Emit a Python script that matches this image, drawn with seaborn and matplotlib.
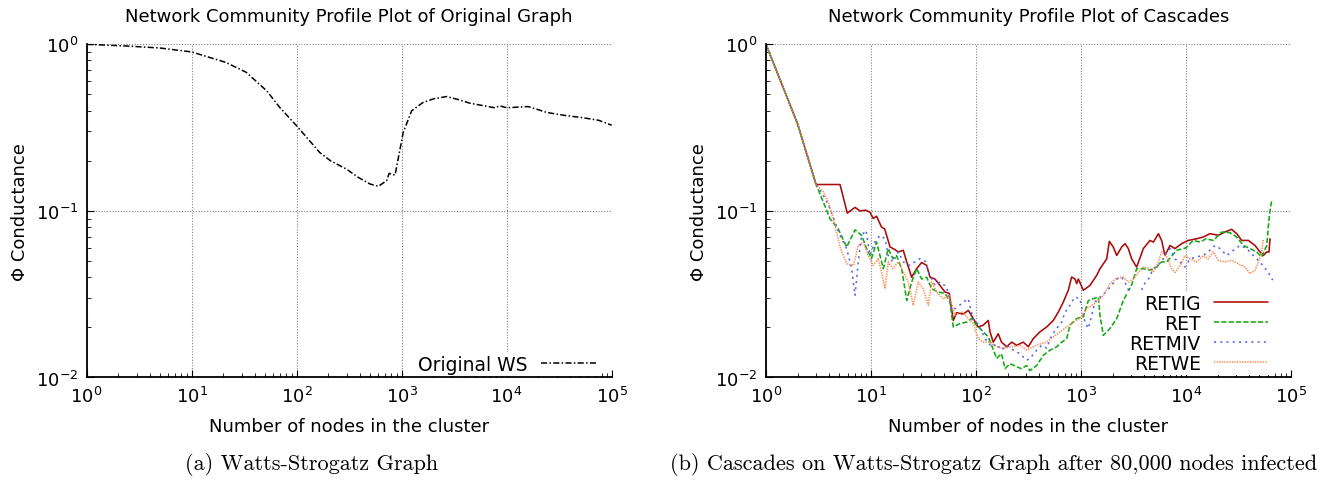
import matplotlib
matplotlib.use("Agg")
import matplotlib.pyplot as plt
import seaborn as sns

# left panel: original Watts-Strogatz graph
ws_x = [1, 2.4, 5, 10, 21, 33, 52, 69, 100, 166,
        210, 299, 386, 500, 600, 720, 760, 865, 965, 1035,
        1245, 1600, 2000, 2680, 3500, 4470, 7700, 8600, 10000, 13000,
        16000, 20000, 24000, 35000, 54000, 75000, 100000]
ws_y = [1.0, 0.977, 0.95, 0.90, 0.78, 0.68, 0.525, 0.418, 0.324, 0.224,
        0.20, 0.178, 0.159, 0.145, 0.1405, 0.152, 0.168, 0.164, 0.235, 0.296,
        0.399, 0.448, 0.47, 0.486, 0.465, 0.443, 0.416, 0.427, 0.416, 0.42,
        0.423, 0.405, 0.390, 0.375, 0.362, 0.35, 0.327]

# right panel: cascades
retig_x = [1, 2, 3, 5.07, 5.95, 7.05, 7.85, 8.96, 9.8, 10.5,
           11.3, 12.6, 13.5, 15.2, 16.6, 18.2, 20.3, 21.9, 24.4, 27.2,
           30.4, 33.9, 36.5, 40.7, 45.4, 50.7, 55.7, 60.8, 65.5, 75.7,
           84.5, 94.3, 105, 117, 131, 136, 146, 163, 175, 196,
           219, 244, 282, 315, 351, 407, 471, 545, 608, 679,
           757, 815, 877, 910, 944, 1052, 1218, 1410, 1517, 1757,
           1862, 2030, 2188, 2440, 2624, 2823, 3040, 3390, 3925, 4540,
           4900, 5460, 5860, 6310, 7040, 7850, 9100, 10500, 12600, 14600,
           16900, 20300, 23500, 27200, 30400, 33900, 39300, 45400, 50700, 54600,
           58700, 61700, 63100]
retig_y = [1.0, 0.333, 0.144, 0.144, 0.097, 0.105, 0.100, 0.101, 0.098, 0.090,
           0.093, 0.080, 0.078, 0.0607, 0.059, 0.0567, 0.058, 0.0494, 0.040, 0.045,
           0.049, 0.0471, 0.040, 0.039, 0.0357, 0.0326, 0.032, 0.022, 0.0245, 0.024,
           0.0253, 0.0226, 0.0201, 0.0206, 0.022, 0.0188, 0.0163, 0.0183, 0.0163, 0.0153,
           0.0163, 0.0156, 0.0163, 0.0153, 0.0171, 0.0188, 0.0201, 0.022, 0.0247, 0.0284,
           0.0334, 0.0401, 0.039, 0.0366, 0.039, 0.0334, 0.0357, 0.041, 0.045, 0.0515,
           0.0656, 0.0607, 0.054, 0.0607, 0.0636, 0.0594, 0.0515, 0.046, 0.0594, 0.0665,
           0.065, 0.073, 0.0665, 0.054, 0.062, 0.0594, 0.0636, 0.0665, 0.068, 0.0697,
           0.073, 0.0714, 0.0747, 0.0775, 0.073, 0.0665, 0.0665, 0.062, 0.0567, 0.054,
           0.0567, 0.0567, 0.068]

ret_x = [1, 2, 3, 3.52, 4.07, 4.88, 5.87, 7.05, 8.15, 9.1,
         10.1, 11.3, 13.1, 14.6, 16.2, 17.5, 19.6, 21.9, 24.4, 27.2,
         30.4, 33.9, 37.8, 43.6, 50.7, 56.5, 60.8, 70.4, 81.5, 91,
         101, 113, 131, 141, 157, 175, 189, 211, 244, 270,
         304, 327, 378, 438, 507, 587, 655, 731, 785, 910,
         1052, 1175, 1310, 1462, 1517, 1632, 1890, 2190, 2530, 3040,
         3390, 3900, 4540, 5260, 5860, 6550, 8150, 10000, 11700, 13600,
         15500, 18200, 21900, 26200, 30400, 35200, 40700, 47100, 52600, 58700,
         62200, 65500]
ret_y = [1.0, 0.333, 0.144, 0.113, 0.0898, 0.078, 0.0607, 0.077, 0.0713, 0.0593,
         0.0517, 0.065, 0.045, 0.0593, 0.0517, 0.054, 0.045, 0.029, 0.0374, 0.045,
         0.039, 0.040, 0.0341, 0.0326, 0.032, 0.0284, 0.0201, 0.0211, 0.0215, 0.0226,
         0.0206, 0.0193, 0.0175, 0.0156, 0.013, 0.0139, 0.0113, 0.0121, 0.0116, 0.0113,
         0.0118, 0.011, 0.0118, 0.0136, 0.0146, 0.0153, 0.0163, 0.0171, 0.0206, 0.0226,
         0.0231, 0.029, 0.0297, 0.0304, 0.0236, 0.0179, 0.0197, 0.0226, 0.029, 0.036,
         0.045, 0.045, 0.0441, 0.046, 0.0494, 0.0494, 0.058, 0.060, 0.0665, 0.065,
         0.068, 0.0665, 0.0747, 0.074, 0.0697, 0.062, 0.0594, 0.0567, 0.0529, 0.062,
         0.094, 0.1156]

retmiv_x = [1, 2, 3, 3.52, 4.07, 4.54, 5.07, 5.87, 6.55, 7.05,
            7.57, 8.15, 8.96, 9.8, 10.9, 12.2, 13.6, 14.6, 16.2, 18.2,
            20.3, 23.5, 26.2, 29.3, 32.7, 36.5, 40.7, 45.4, 52.6, 58.6,
            65.5, 75.7, 84.5, 94.4, 105, 122, 141, 157, 175, 196,
            227, 262, 304, 327, 378, 422, 471, 526, 587, 655,
            704, 757, 815, 877, 977, 1091, 1175, 1265, 1360, 1460,
            1757, 2190, 2440, 2720, 2930, 3390, 3925, 4380, 4890, 5250,
            5860, 6550, 7040, 7850, 8770, 9780, 10900, 12600, 14600, 16900,
            18900, 21100, 24400, 28200, 32700, 37800, 43700, 48800, 54600, 60800,
            66900]
retmiv_y = [1.0, 0.333, 0.144, 0.124, 0.103, 0.0858, 0.0713, 0.0593, 0.045, 0.0311,
            0.0494, 0.0713, 0.0764, 0.054, 0.065, 0.0713, 0.068, 0.054, 0.0494, 0.0567,
            0.0494, 0.047, 0.0494, 0.0517, 0.050, 0.041, 0.0357, 0.0374, 0.035, 0.0253,
            0.0262, 0.0284, 0.0297, 0.022, 0.021, 0.0171, 0.0153, 0.0159, 0.0146, 0.0156,
            0.0146, 0.0139, 0.0127, 0.013, 0.0146, 0.0156, 0.015, 0.0179, 0.0197, 0.0215,
            0.0247, 0.026, 0.0284, 0.0304, 0.0297, 0.0215, 0.0197, 0.0236, 0.0284, 0.0297,
            0.033, 0.039, 0.040, 0.0357, 0.0318, 0.028, 0.0357, 0.039, 0.045, 0.0467,
            0.0494, 0.0567, 0.0594, 0.0515, 0.0494, 0.046, 0.0515, 0.053, 0.054, 0.058,
            0.062, 0.0594, 0.054, 0.058, 0.062, 0.0594, 0.054, 0.0505, 0.0467, 0.0427,
            0.0384]

retwe_x = [1, 2, 3, 3.52, 3.92, 4.38, 5.07, 5.87, 6.8, 7.57,
           8.45, 9.4, 10.5, 11.7, 12.6, 13.6, 14.6, 16.2, 18.2, 20.3,
           22.7, 25.3, 28.2, 31.5, 35.2, 37.8, 42.2, 48.8, 55.7, 63,
           72.9, 84.5, 94.4, 105, 117, 136, 157, 182, 219, 262,
           304, 351, 407, 471, 545, 631, 731, 845, 1014, 1132,
           1265, 1410, 1632, 1890, 2190, 2530, 2823, 3150, 3515, 3925,
           4380, 4890, 5460, 5860, 6550, 7310, 7850, 8770, 9780, 10900,
           12600, 14600, 16200, 18200, 20300, 23500, 27200, 31500, 36500, 40700,
           45400, 48900, 52600, 54600]
retwe_y = [1.0, 0.333, 0.144, 0.13, 0.113, 0.0898, 0.0607, 0.0482, 0.047, 0.062,
           0.065, 0.054, 0.047, 0.0517, 0.0431, 0.0341, 0.0494, 0.045, 0.0494, 0.0431,
           0.0374, 0.0271, 0.0374, 0.0341, 0.0271, 0.0374, 0.0326, 0.0297, 0.031, 0.0237,
           0.0248, 0.0226, 0.021, 0.0171, 0.0163, 0.0163, 0.0153, 0.015, 0.0153, 0.0156,
           0.0146, 0.0153, 0.0159, 0.0163, 0.0175, 0.0188, 0.0201, 0.0215, 0.0231, 0.026,
           0.0271, 0.0284, 0.031, 0.0366, 0.0396, 0.040, 0.0374, 0.039, 0.0427, 0.046,
           0.0455, 0.043, 0.0494, 0.0567, 0.053, 0.045, 0.0427, 0.0467, 0.054, 0.0515,
           0.0494, 0.054, 0.0515, 0.0567, 0.0505, 0.0494, 0.0505, 0.0482, 0.046, 0.042,
           0.044, 0.0494, 0.0567, 0.068]

xticks = [1, 10, 100, 1000, 10000, 100000]
yticks = [0.01, 0.1, 1]

sns.set_style("white")
plt.rcParams['font.family'] = ['DejaVu Sans']
plt.rcParams['text.color'] = 'black'
plt.rcParams['axes.labelcolor'] = 'black'

fig = plt.figure(figsize=(13.37, 4.81), dpi=100)
ax1 = fig.add_axes([0.0648, 0.2131, 0.3927, 0.6927])
ax2 = fig.add_axes([0.5729, 0.2131, 0.3927, 0.6927])

sns.lineplot(x=ws_x, y=ws_y, ax=ax1, color='black', lw=1.1,
             linestyle=(0, (4, 1.5, 1, 1.5)), label='Original WS')

series = [
    (retig_x, retig_y, 'RETIG', '#aa0a0a', '-'),
    (ret_x, ret_y, 'RET', '#14a814', (0, (3.2, 1.4))),
    (retmiv_x, retmiv_y, 'RETMIV', '#5566ee', (0, (1.3, 2.6))),
    (retwe_x, retwe_y, 'RETWE', '#ff8548', (0, (0.8, 0.8))),
]
for xs, ys, name, col, ls in series:
    sns.lineplot(x=xs, y=ys, ax=ax2, color=col, lw=1.15, linestyle=ls, label=name)

titles = ['Network Community Profile Plot of Original Graph',
          'Network Community Profile Plot of Cascades']
for ax, t in zip([ax1, ax2], titles):
    ax.set_xscale('log')
    ax.set_yscale('log')
    ax.set_xlim(1, 1e5)
    ax.set_ylim(0.01, 1)
    ax.set_xticks(xticks)
    ax.set_yticks(yticks)
    ax.grid(True, which='major', color='#808080', linestyle=(0, (1, 1.5)), linewidth=0.8)
    for s in ['top', 'right']:
        ax.spines[s].set_visible(False)
    for s in ['left', 'bottom']:
        ax.spines[s].set_color('black')
        ax.spines[s].set_linewidth(1.3)
    ax.tick_params(which='both', direction='in', colors='black', labelsize=13,
                   bottom=True, left=True)
    ax.tick_params(which='major', length=5, width=0.8)
    ax.tick_params(which='minor', length=3, width=0.6)
    ax.tick_params(axis='x', which='major', pad=6)
    ax.tick_params(axis='y', which='major', pad=6)
    ax.set_xlabel('Number of nodes in the cluster', fontsize=13, labelpad=8)
    ax.set_ylabel('Φ Conductance', fontsize=13, labelpad=5)
    ax.set_title(t, fontsize=13, pad=17)

leg1 = ax1.legend(loc='lower right', bbox_to_anchor=(0.978, 0.003), fontsize=13.5,
                  markerfirst=False, handlelength=3.0, handletextpad=0.75,
                  borderpad=0.15, borderaxespad=0, fancybox=False, framealpha=1)
leg1.get_frame().set_edgecolor('none')

leg2 = ax2.legend(loc='lower right', bbox_to_anchor=(0.962, 0.006), fontsize=13.5,
                  markerfirst=False, handlelength=2.9, handletextpad=0.7,
                  labelspacing=0.05, borderpad=0.15, borderaxespad=0,
                  fancybox=False, framealpha=1)
leg2.get_frame().set_edgecolor('none')

fig.text(312 / 1337, 1 - 465 / 481, '(a) Watts-Strogatz Graph',
         family='cmr10', fontsize=16, ha='center', va='center')
fig.text(994 / 1337, 1 - 465 / 481,
         '(b) Cascades on Watts-Strogatz Graph after 80,000 nodes infected',
         family='cmr10', fontsize=16, ha='center', va='center')

fig.savefig('out.png', dpi=100)
